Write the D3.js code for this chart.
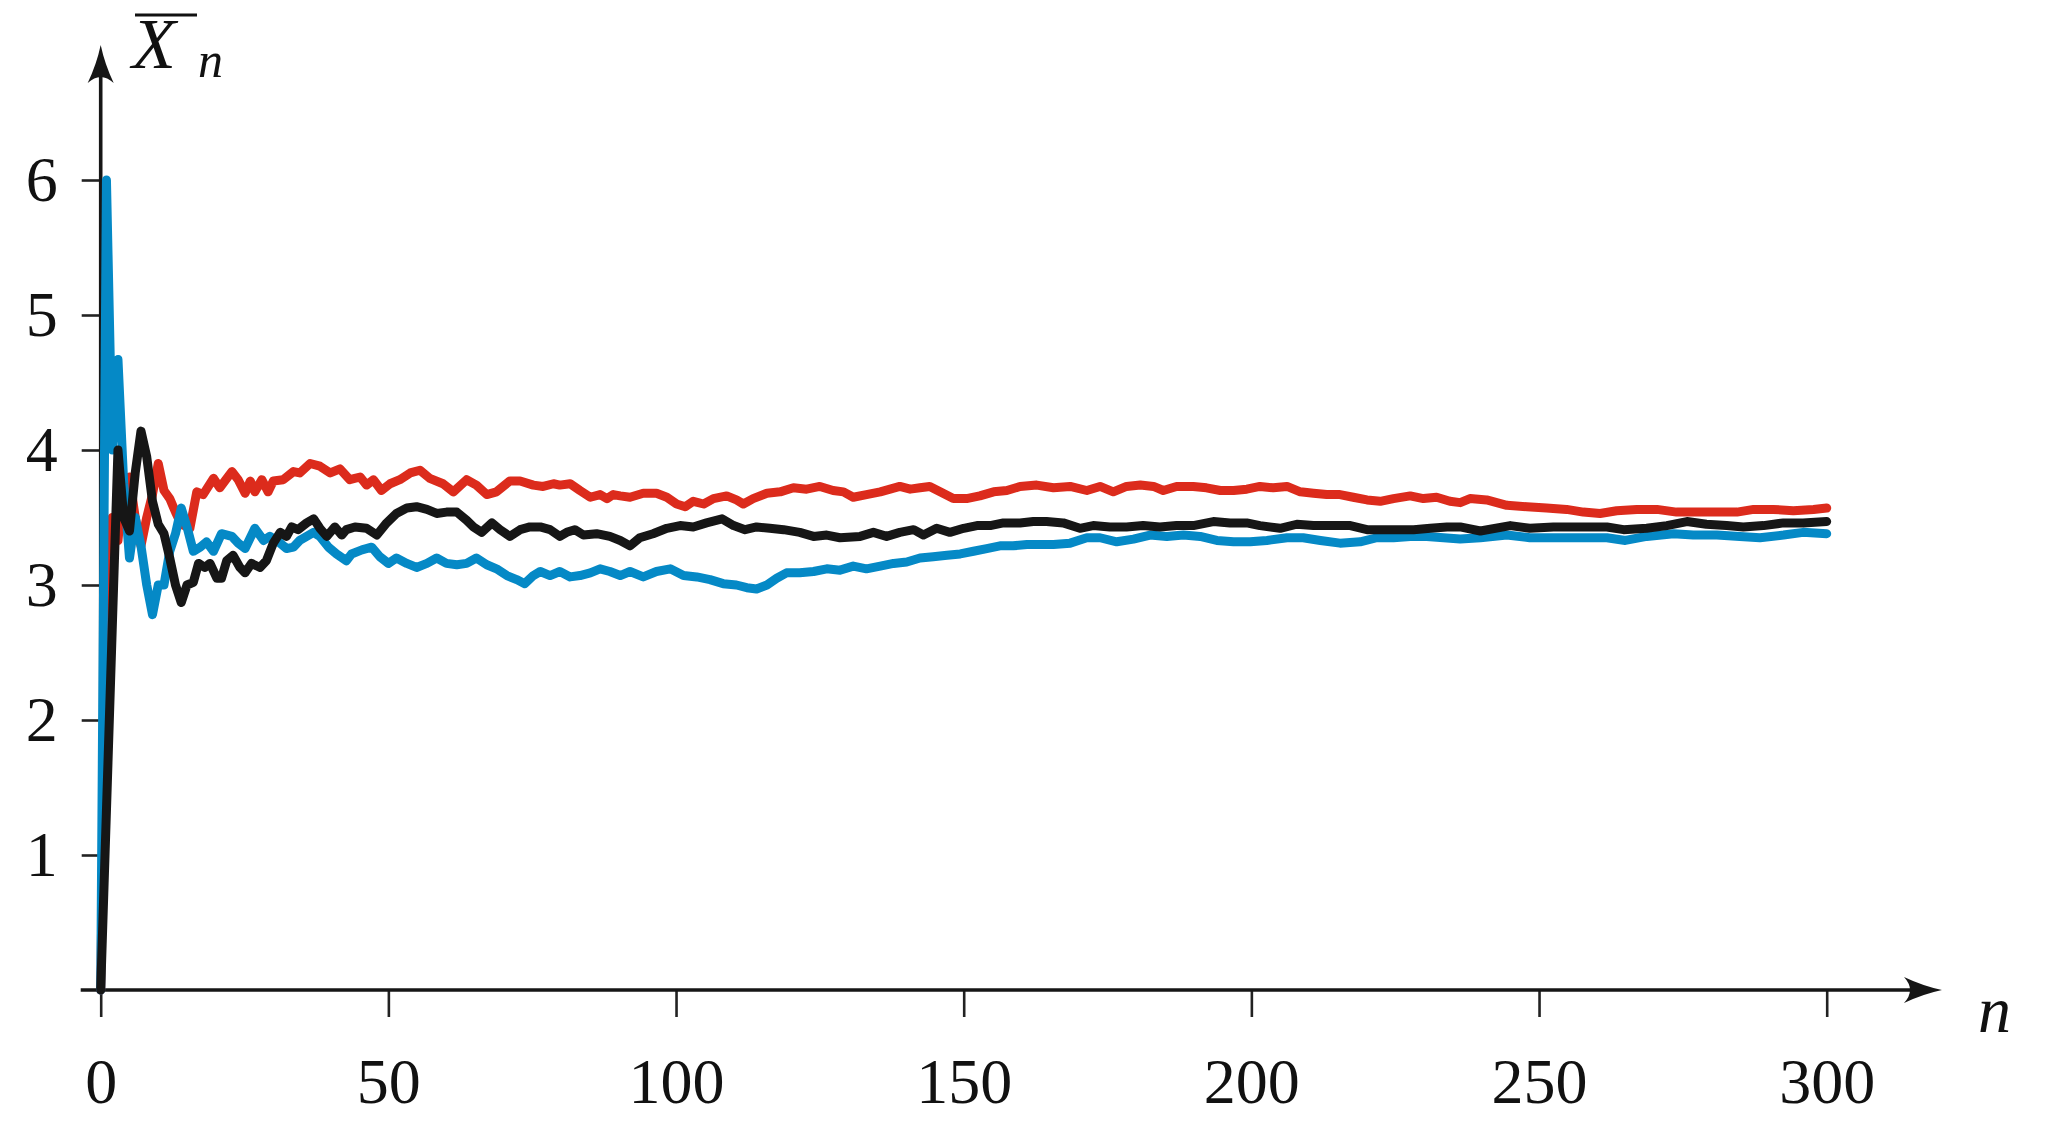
<!DOCTYPE html>
<html><head><meta charset="utf-8">
<script src="https://cdn.jsdelivr.net/npm/d3@7"></script>
<style>html,body{margin:0;padding:0;background:#fff;} svg{display:block;}</style>
</head><body>
<svg id="chart" width="2048" height="1127"></svg>
<script>
// ---------- data ----------
const xTicks = [0, 50, 100, 150, 200, 250, 300];
const yTicks = [1, 2, 3, 4, 5, 6];

const redN = [0,1,2,3,4,5,6,7,8,9,
  10,11,12,13,14,15.5,16.7,17.8,19.6,20.7,
  22.8,23.9,25.1,26,26.8,28,29.1,30,31.7,33.5,
  34.6,36.4,38.1,39.9,41.6,43.3,45.1,46.2,47.4,48.8,
  50.3,52,53.8,55.5,57.2,59.5,61.3,63.6,65.3,67.1,
  68.8,71.1,72.9,75.2,76.9,78.7,79.8,81.6,83.3,85.1,
  86.8,88,89.1,90.3,92,94.3,96.6,98.4,100.1,101.6,
  103,104.8,106.5,108.8,110.5,111.7,113.4,115.8,118.1,120.4,
  122.7,125,127.3,129.1,130.8,133.1,135.5,137.2,138.9,140.7,
  142.4,144.1,145.9,148.2,150.5,152.8,155.2,157.5,159.8,162.7,
  165.6,168.5,171.4,173.7,176,178.3,180.7,183,184.7,187,
  189.9,192.2,194.6,196.9,199.2,201.5,203.8,206.2,208.5,210.8,
  213.1,215.4,217.7,220.1,222.4,224.7,227.6,229.9,232.2,234.5,
  236.3,238,240.9,244.4,247.9,251.3,254.8,257.7,260.6,263.5,
  267,270.5,273.9,277.4,280.9,284.4,287.3,290.7,294.2,297.7,
  300];
const redV = [0,3,3.5,3.33,3.75,3.8,3.5,3.29,3.5,3.67,
  3.9,3.7,3.64,3.54,3.45,3.42,3.69,3.67,3.79,3.72,
  3.84,3.78,3.68,3.77,3.69,3.78,3.69,3.77,3.78,3.84,
  3.83,3.90,3.88,3.83,3.86,3.78,3.80,3.74,3.78,3.70,
  3.75,3.78,3.83,3.85,3.79,3.75,3.69,3.78,3.74,3.67,
  3.69,3.77,3.77,3.74,3.73,3.75,3.74,3.75,3.70,3.65,
  3.67,3.64,3.67,3.66,3.65,3.68,3.68,3.65,3.60,3.58,
  3.62,3.60,3.64,3.66,3.63,3.60,3.64,3.68,3.69,3.72,
  3.71,3.73,3.70,3.69,3.65,3.67,3.69,3.71,3.73,3.71,
  3.72,3.73,3.69,3.64,3.64,3.66,3.69,3.70,3.73,3.74,
  3.72,3.73,3.70,3.73,3.69,3.73,3.74,3.73,3.70,3.73,
  3.73,3.72,3.70,3.70,3.71,3.73,3.72,3.73,3.69,3.68,
  3.67,3.67,3.65,3.63,3.62,3.64,3.66,3.64,3.65,3.62,
  3.61,3.64,3.63,3.59,3.58,3.57,3.56,3.54,3.53,3.55,
  3.56,3.56,3.54,3.54,3.54,3.54,3.56,3.56,3.55,3.56,
  3.57];

const blueN = [0,1,2,3,4,5,6,7,8,9,
  10,11,12,13,14,15,16.1,17.3,18.4,19.6,
  21,22.8,23.9,25.1,26.8,28.3,29.4,30.9,32.3,33.5,
  34.6,35.8,37,38.1,39.6,41,42.7,43.6,45.4,47.1,
  48.5,50,51.4,53.2,54.9,56.7,58.4,60.1,61.9,63.6,
  65.3,67.1,68.8,70.6,72.3,73.7,75.2,76.4,78.1,79.8,
  81.6,83.3,85.1,86.8,88.5,90.3,92,94.3,96.6,99,
  101.3,103.6,105.9,108.2,110.5,112.3,114,115.8,117.5,119.2,
  121.5,123.9,126.2,128.5,130.8,133.1,135.5,137.8,140.1,142.4,
  144.7,147.1,149.4,151.7,154,156.3,158.6,161,163.3,165.6,
  168.5,171.4,173.7,176.6,179.5,182.4,185.3,188.2,191.1,194,
  196.9,199.8,202.7,206.2,209,212,215.4,218.9,221.8,224.7,
  227.6,230.5,233.4,236.3,239.8,244.4,248.4,252.5,257.1,261.8,
  265,268.7,273.4,276.8,280.9,284.9,288.4,292.5,295.9,300];
const blueV = [0,6,4,4.67,3.75,3.2,3.5,3.29,3.0,2.78,
  3.0,3.0,3.25,3.38,3.57,3.43,3.25,3.28,3.32,3.25,
  3.38,3.36,3.31,3.27,3.42,3.33,3.36,3.32,3.27,3.28,
  3.33,3.36,3.39,3.36,3.28,3.23,3.18,3.23,3.26,3.28,
  3.21,3.16,3.20,3.16,3.13,3.16,3.20,3.16,3.15,3.16,
  3.20,3.15,3.12,3.07,3.04,3.01,3.07,3.10,3.07,3.10,
  3.06,3.07,3.09,3.12,3.10,3.07,3.10,3.06,3.10,3.12,
  3.07,3.06,3.04,3.01,3.00,2.98,2.97,3.00,3.05,3.09,
  3.09,3.10,3.12,3.11,3.14,3.12,3.14,3.16,3.17,3.20,
  3.21,3.22,3.23,3.25,3.27,3.29,3.29,3.30,3.30,3.30,
  3.31,3.35,3.35,3.32,3.34,3.37,3.36,3.37,3.36,3.33,
  3.32,3.32,3.33,3.35,3.35,3.33,3.31,3.32,3.35,3.35,
  3.36,3.36,3.35,3.34,3.35,3.37,3.35,3.35,3.35,3.35,
  3.33,3.36,3.38,3.37,3.37,3.36,3.35,3.37,3.39,3.38];

const blackN = [0,1,2,3,4,5,6,7,8,9,
  10,11,12,13,14,15,16.1,17,18.1,19,
  20.2,21,21.9,23,24.2,25.1,26.2,27.7,28.8,30,
  31.2,32.3,33.2,34.3,35.8,37,38.1,39.3,40.7,41.9,
  42.7,44.2,46.2,48,49.7,51.4,53.2,54.9,56.7,58.4,
  60.1,61.9,63.6,64.8,66.2,68,69.4,71.1,72.9,74.6,
  76.4,78.1,79.8,81,82.4,83.9,86.2,88.5,90.3,92,
  93.7,96,98.4,100.7,103,105.3,108,110,112,114,
  116.3,118.7,121.5,123.9,126.2,128.5,132,134.3,136.6,138.9,
  141.3,143,145.3,147.6,150,152.3,154.6,156.9,159.8,162.1,
  164.4,167.3,170.2,172.5,175.4,178.3,181.2,184.1,187,189.9,
  193.4,196.3,199.2,201.5,205,207.9,210.8,214.3,217.2,220.1,
  222.4,225.3,228.2,231.1,234,236.3,239.8,245,248.4,252.5,
  257.1,261.8,264.7,268.7,272.2,275.7,279.1,282.6,285.5,289,
  292.5,295.9,300];
const blackV = [0,1.33,2.67,4.0,3.5,3.4,3.83,4.14,3.95,3.62,
  3.45,3.38,3.2,3.0,2.87,3.0,3.02,3.16,3.13,3.16,
  3.05,3.05,3.18,3.22,3.13,3.09,3.16,3.13,3.18,3.31,
  3.39,3.36,3.43,3.41,3.46,3.49,3.42,3.36,3.43,3.37,
  3.41,3.43,3.42,3.37,3.46,3.53,3.57,3.58,3.56,3.53,
  3.54,3.54,3.48,3.43,3.39,3.46,3.41,3.36,3.41,3.43,
  3.43,3.41,3.36,3.39,3.41,3.37,3.38,3.36,3.33,3.29,
  3.35,3.38,3.42,3.44,3.43,3.46,3.49,3.44,3.41,3.43,
  3.42,3.41,3.39,3.36,3.37,3.35,3.36,3.39,3.36,3.39,
  3.41,3.37,3.42,3.39,3.42,3.44,3.44,3.46,3.46,3.47,
  3.47,3.46,3.42,3.44,3.43,3.43,3.44,3.43,3.44,3.44,
  3.47,3.46,3.46,3.44,3.42,3.45,3.44,3.44,3.44,3.41,
  3.41,3.41,3.41,3.42,3.43,3.43,3.40,3.44,3.42,3.43,
  3.43,3.43,3.41,3.42,3.44,3.47,3.45,3.44,3.43,3.44,
  3.46,3.46,3.47];

const seriesNames = ["red", "blue", "black"];
const seriesColors = ["#dc2b1c", "#0589c6", "#161616"];

// ---------- chart ----------
const FONT = "'Liberation Serif','DejaVu Serif',serif";
const svg = d3.select("#chart");
const x = d3.scaleLinear().domain([0, 300]).range([100.7, 1826.7]);
const y = d3.scaleLinear().domain([0, 6]).range([990, 180]);

// x axis
const gx = svg.append("g").attr("transform", `translate(0,${y(0)})`)
  .call(d3.axisBottom(x).tickValues(xTicks).tickSize(27).tickFormat(d3.format("d")));
gx.select(".domain").remove();
gx.selectAll(".tick line").attr("stroke", "#222").attr("stroke-width", 2.6);
gx.selectAll(".tick text").attr("y", 113).attr("dy", null)
  .attr("font-family", FONT).attr("font-size", 64).attr("fill", "#111");

// y axis
const gy = svg.append("g").attr("transform", `translate(${x(0)},0)`)
  .call(d3.axisLeft(y).tickValues(yTicks).tickSize(19).tickFormat(d3.format("d")));
gy.select(".domain").remove();
gy.selectAll(".tick line").attr("stroke", "#222").attr("stroke-width", 2.6);
gy.selectAll(".tick text").attr("x", -43).attr("dy", "0.32em")
  .attr("font-family", FONT).attr("font-size", 64).attr("fill", "#111");

// axis lines with arrows
const x0 = x(0), y0 = y(0);
svg.append("line").attr("x1", x0 - 20).attr("x2", 1920).attr("y1", y0).attr("y2", y0)
  .attr("stroke", "#161616").attr("stroke-width", 3.6);
svg.append("line").attr("x1", x0).attr("x2", x0).attr("y1", y0).attr("y2", 70)
  .attr("stroke", "#161616").attr("stroke-width", 3.6);
svg.append("path")
  .attr("d", `M${x0},45 Q${x0-4},64 ${x0-13},83 Q${x0},71 ${x0+13},83 Q${x0+4},64 ${x0},45 Z`)
  .attr("fill", "#161616");
svg.append("path")
  .attr("d", `M1942,${y0} Q1923,${y0-4} 1904,${y0-13} Q1916,${y0} 1904,${y0+13} Q1923,${y0+4} 1942,${y0} Z`)
  .attr("fill", "#161616");

// series lines
const line = d3.line().x(d => x(d[0])).y(d => y(d[1])).curve(d3.curveLinear);
const seriesData = [d3.zip(redN, redV), d3.zip(blueN, blueV), d3.zip(blackN, blackV)];
svg.append("g").selectAll("path").data(seriesData).join("path")
  .attr("d", line)
  .attr("fill", "none")
  .attr("stroke", (d, i) => seriesColors[i])
  .attr("stroke-width", 9)
  .attr("stroke-linejoin", "round")
  .attr("stroke-linecap", "round");

// axis labels
svg.append("line").attr("x1", 135).attr("x2", 197).attr("y1", 15).attr("y2", 15)
  .attr("stroke", "#111").attr("stroke-width", 3);
svg.append("text").attr("x", 132).attr("y", 68).text("X")
  .attr("font-family", FONT).attr("font-style", "italic").attr("font-size", 72).attr("fill", "#111");
svg.append("text").attr("x", 198).attr("y", 77).text("n")
  .attr("font-family", FONT).attr("font-style", "italic").attr("font-size", 50).attr("fill", "#111");
svg.append("text").attr("x", 1978).attr("y", 1032).text("n")
  .attr("font-family", FONT).attr("font-style", "italic").attr("font-size", 66).attr("fill", "#111");
</script>
</body></html>
